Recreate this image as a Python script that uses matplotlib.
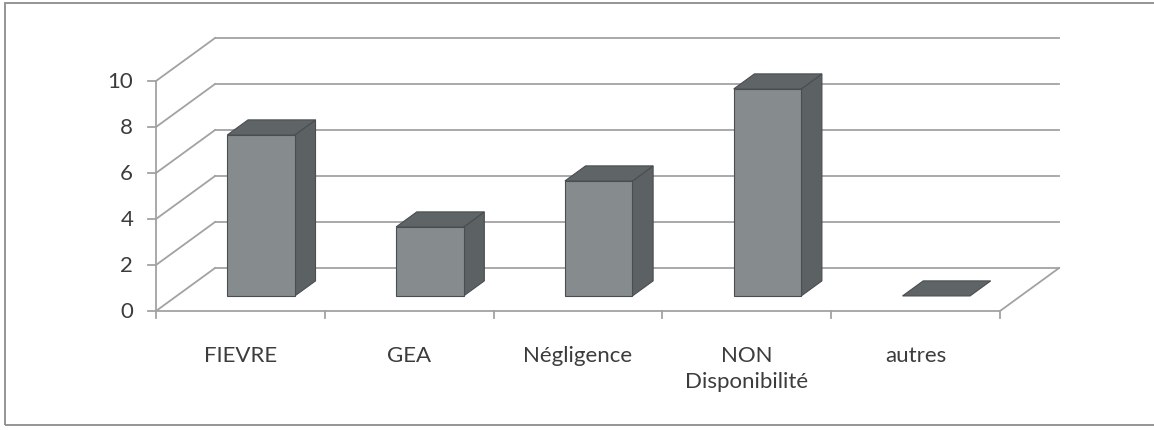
import matplotlib
matplotlib.use("Agg")
import matplotlib.pyplot as plt
from matplotlib.patches import Polygon, Rectangle

plt.rcParams['font.family'] = ['Lato', 'DejaVu Sans']

# Data
categories = ["FIEVRE", "GEA", "Négligence", "NON\nDisponibilité", "autres"]
values = [7, 3, 5, 9, 0]
y_ticks = [0, 2, 4, 6, 8, 10]

# Pseudo-3D geometry (data units): depth vector of the chart box
DX, DY = 0.35, 1.87
F0, F1 = 0.35, 0.70        # depth band occupied by the columns
BAR_W = 0.40

FRONT_C = "#868b8d"
TOP_C = "#5f6466"
SIDE_C = "#5c6163"
EDGE_C = "#4a4e50"
GRID_C = "#a2a2a2"
TEXT_C = "#3c3c3c"

fig = plt.figure(figsize=(11.54, 4.31), dpi=100)
fig.patch.set_facecolor("white")

# outer chart border
fig.patches.append(Rectangle((5 / 1154, 5 / 431), 1.2, 422 / 431,
                             transform=fig.transFigure, fill=False,
                             edgecolor="#8c8c8c", linewidth=1.3))

ax = fig.add_axes([156 / 1154, (431 - 312) / 431, 844 / 1154, 230 / 431])
ax.set_xlim(0, len(categories))
ax.set_ylim(0, 10)
ax.axis("off")


def P(x, y, d):
    return (x + d * DX, y + d * DY)


n = len(categories)
# back wall gridlines and left side wall diagonals
for t in y_ticks:
    ax.plot([P(0, t, 1)[0], P(n, t, 1)[0]], [P(0, t, 1)[1], P(n, t, 1)[1]],
            color=GRID_C, lw=1.3, clip_on=False, zorder=1)
    ax.plot([0, DX], [t, t + DY], color=GRID_C, lw=1.3, clip_on=False, zorder=1)
    # tick mark on the front value axis
    ax.plot([-0.045, 0], [t, t], color=GRID_C, lw=1.3, clip_on=False, zorder=1)
    ax.text(-0.135, t, str(t), ha="right", va="center", fontsize=16,
            color=TEXT_C, clip_on=False)

# floor: front edge, right edge, front value axis line
ax.plot([0, n], [0, 0], color=GRID_C, lw=1.3, clip_on=False, zorder=1)
ax.plot([n, n + DX], [0, DY], color=GRID_C, lw=1.3, clip_on=False, zorder=1)
ax.plot([0, 0], [0, 10], color=GRID_C, lw=1.3, clip_on=False, zorder=1)
for i in range(n + 1):
    ax.plot([i, i], [0, -0.3], color=GRID_C, lw=1.3, clip_on=False, zorder=1)

# columns
for i, (cat, v) in enumerate(zip(categories, values)):
    x0 = i + 0.5 - BAR_W / 2
    x1 = i + 0.5 + BAR_W / 2
    side = [P(x1, 0, F0), P(x1, 0, F1), P(x1, v, F1), P(x1, v, F0)]
    top = [P(x0, v, F0), P(x1, v, F0), P(x1, v, F1), P(x0, v, F1)]
    front = [P(x0, 0, F0), P(x1, 0, F0), P(x1, v, F0), P(x0, v, F0)]
    if v > 0:
        ax.add_patch(Polygon(side, closed=True, facecolor=SIDE_C,
                             edgecolor=EDGE_C, lw=0.8, clip_on=False, zorder=3))
    ax.add_patch(Polygon(top, closed=True, facecolor=TOP_C,
                         edgecolor=EDGE_C, lw=0.8, clip_on=False, zorder=3))
    if v > 0:
        ax.add_patch(Polygon(front, closed=True, facecolor=FRONT_C,
                             edgecolor=EDGE_C, lw=0.8, clip_on=False, zorder=4))
    # category label
    ax.text(i + 0.5, -1.5, cat, ha="center", va="top", fontsize=16,
            color=TEXT_C, linespacing=1.35, clip_on=False)

fig.savefig("out.png", dpi=100)
